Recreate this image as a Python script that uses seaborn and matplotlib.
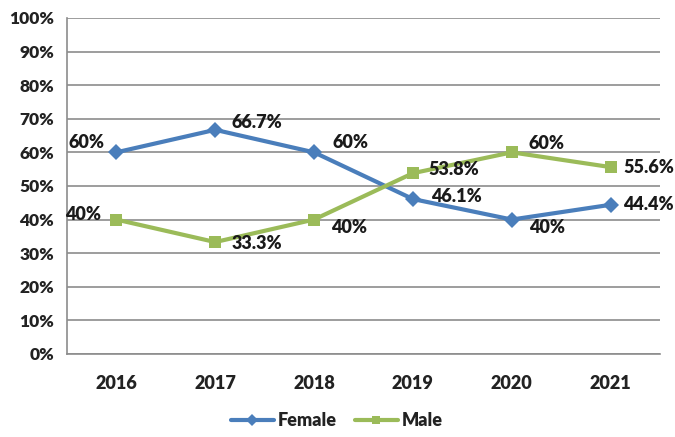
import matplotlib
matplotlib.use("Agg")
import matplotlib.pyplot as plt
import seaborn as sns
import pandas as pd
import numpy as np

years = ["2016", "2017", "2018", "2019", "2020", "2021"]
female = [60, 66.7, 60, 46.1, 40, 44.4]
male = [40, 33.3, 40, 53.8, 60, 55.6]
female_labels = ["60%", "66.7%", "60%", "46.1%", "40%", "44.4%"]
male_labels = ["40%", "33.3%", "40%", "53.8%", "60%", "55.6%"]
y_ticks = [0, 10, 20, 30, 40, 50, 60, 70, 80, 90, 100]

sns.set_style("white")
plt.rcParams["font.family"] = ["Lato", "DejaVu Sans"]

df = pd.DataFrame({
    "pos": list(range(len(years))) * 2,
    "value": female + male,
    "series": ["Female"] * len(years) + ["Male"] * len(years),
})

fig = plt.figure(figsize=(6.75, 4.37), dpi=100)
ax = fig.add_axes([0.099, 0.19, 0.879, 0.769])

palette = {"Female": "#4A7EBB", "Male": "#9BBB59"}
sns.lineplot(data=df, x="pos", y="value", hue="series", style="series",
             markers={"Female": "D", "Male": "s"}, dashes=False,
             palette=palette, linewidth=3, markersize=8,
             markeredgewidth=0, ax=ax, legend=True)

ax.set_xlim(-0.5, len(years) - 0.5)
ax.set_ylim(0, 100)
ax.set_yticks(y_ticks)
ax.set_yticklabels([f"{v}%" for v in y_ticks], fontsize=12.5, fontweight="heavy",
                   color="#222222")
ax.set_xticks(range(len(years)))
ax.set_xticklabels(years, fontsize=13, fontweight="heavy", color="#222222")
ax.set_xticks(np.arange(-0.5, len(years)), minor=True)
ax.tick_params(axis="x", which="major", length=0, pad=15)
ax.tick_params(axis="x", which="minor", length=5, color="#888888", width=1.2, direction="out")
ax.tick_params(axis="y", length=5, color="#888888", width=1.2, direction="out", pad=4)
ax.set_xlabel("")
ax.set_ylabel("")
ax.yaxis.grid(True, color="#8c8c8c", linewidth=1.2)
ax.set_axisbelow(True)
for s in ["top", "right"]:
    ax.spines[s].set_visible(False)
for s in ["left", "bottom"]:
    ax.spines[s].set_color("#8c8c8c")
    ax.spines[s].set_linewidth(1.2)

# value labels: (dx in data units, dy in data units)
female_off = [(-0.48, 2.8, ), (0.17, 2.2), (0.19, 2.8),
              (0.18, 0.7), (0.17, -2.5), (0.13, 0)]
male_off = [(-0.52, 1.5), (0.17, -0.3), (0.17, -2.5),
            (0.16, 1.2), (0.17, 2.5), (0.13, 0)]
label_font = dict(fontsize=13, fontweight="heavy", color="#1a1a1a")
for i in range(len(years)):
    dx, dy = female_off[i]
    ax.text(i + dx, female[i] + dy, female_labels[i], ha="left", va="center",
            **label_font)
    dx, dy = male_off[i]
    ax.text(i + dx, male[i] + dy, male_labels[i], ha="left", va="center",
            **label_font)

leg = ax.legend(loc="upper center", bbox_to_anchor=(0.455, -0.125), ncol=2,
                frameon=False, handlelength=2.4, columnspacing=1.0,
                handletextpad=0.2, prop={"size": 13, "weight": "heavy"})
for h in leg.legend_handles:
    h.set_markersize(6)
for t in leg.get_texts():
    t.set_color("#222222")

fig.savefig("out.png", dpi=100)
